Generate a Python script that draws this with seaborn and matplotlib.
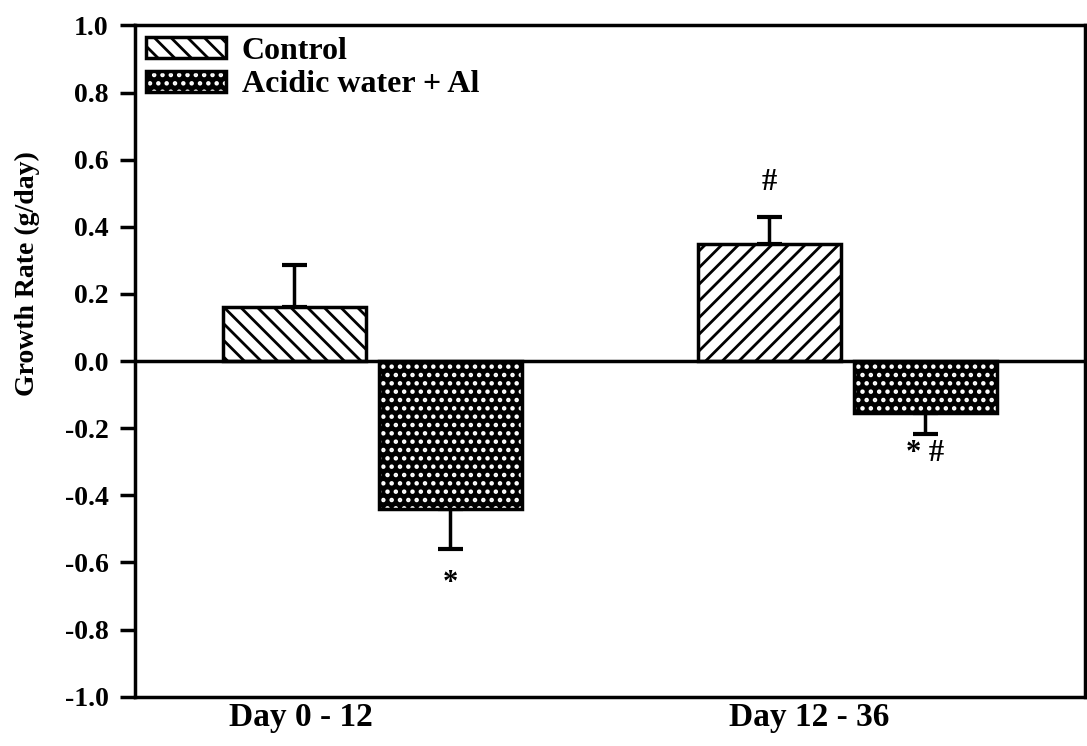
import matplotlib.pyplot as plt
import matplotlib.patches as mpatches
import pandas as pd
import seaborn as sns

# values
periods = ['Day 0 - 12', 'Day 12 - 36']
groups = ['Control', 'Acidic water + Al']
control = [0.16, 0.35]
control_err = [0.125, 0.08]
acidic = [-0.44, -0.155]
acidic_err = [0.12, 0.062]
control_marks = ['', '#']
acidic_marks = ['*', '* #']

df = pd.DataFrame({
    'period': periods * 2,
    'group': [groups[0]] * 2 + [groups[1]] * 2,
    'rate': control + acidic,
})

sns.set_style('ticks')
plt.rcParams['font.family'] = ['Liberation Serif', 'DejaVu Serif']
plt.rcParams['hatch.linewidth'] = 2
for k in ['text.color', 'axes.labelcolor', 'xtick.color', 'ytick.color', 'axes.edgecolor']:
    plt.rcParams[k] = 'black'

fig, ax = plt.subplots(figsize=(10.87, 7.46), dpi=100)
fig.subplots_adjust(left=0.124, right=0.998, top=0.966, bottom=0.066)

sns.barplot(data=df, x='period', y='rate', hue='group', hue_order=groups,
            palette=['white', 'black'], width=0.658, gap=0.083,
            edgecolor='black', linewidth=2.5, legend=False, ax=ax)

ctrl_bars, acid_bars = ax.containers[0], ax.containers[1]
for bar, h in zip(ctrl_bars, ['\\\\', '//']):
    bar.set_hatch(h)
for bar in acid_bars:
    bar.set_hatch('..')
    bar._hatch_color = (1, 1, 1, 1)

# one-sided error bars + significance marks (offset in points)
mark_offsets = {'#': 14, '*': 14, '* #': 4}
for bars, vals, errs, marks in [(ctrl_bars, control, control_err, control_marks),
                                (acid_bars, acidic, acidic_err, acidic_marks)]:
    for bar, v, e, m in zip(bars, vals, errs, marks):
        x = bar.get_x() + bar.get_width() / 2
        yerr = [[0], [e]] if v > 0 else [[e], [0]]
        ax.errorbar([x], [v], yerr=yerr, fmt='none', ecolor='black',
                    elinewidth=2.5, capsize=9, capthick=3, zorder=0.5)
        if m:
            tip = v + e if v > 0 else v - e
            off = mark_offsets[m]
            ax.annotate(m, (x, tip), xytext=(0, off if v > 0 else -off),
                        textcoords='offset points', ha='center',
                        va='bottom' if v > 0 else 'top',
                        fontsize=22, fontweight='bold')

ax.axhline(0, color='black', lw=2.5, zorder=3)
ax.set_ylim(-1.0, 1.0)
ax.set_xlim(-0.5, 1.5)
ax.set_yticks([-1.0, -0.8, -0.6, -0.4, -0.2, 0.0, 0.2, 0.4, 0.6, 0.8, 1.0])
ax.set_yticklabels([f'{t:.1f}' for t in ax.get_yticks()], fontweight='bold', fontsize=20)
ax.set_xticks([-0.15, 0.92], periods, fontsize=24, fontweight='bold')
ax.tick_params(axis='x', length=0, pad=4)
ax.tick_params(axis='y', direction='out', length=11, width=2.5, pad=8)
ax.set_xlabel('')
ax.set_ylabel('Growth Rate (g/day)', fontsize=20, fontweight='bold')
ax.yaxis.set_label_coords(-0.1, 0.63)
for s in ax.spines.values():
    s.set_linewidth(2.5)

handles = [mpatches.Patch(facecolor='white', edgecolor='black', hatch='\\\\', lw=2.5),
           mpatches.Patch(facecolor='black', edgecolor='black', hatch='..', lw=2.5)]
handles[1]._hatch_color = (1, 1, 1, 1)
ax.legend(handles, groups, loc='upper left', frameon=False,
          prop={'size': 23, 'weight': 'bold'},
          handlelength=2.5, handleheight=0.63, handletextpad=0.5,
          labelspacing=0.15, borderaxespad=0.0, borderpad=0.35)

fig.savefig('out.png', dpi=100)
